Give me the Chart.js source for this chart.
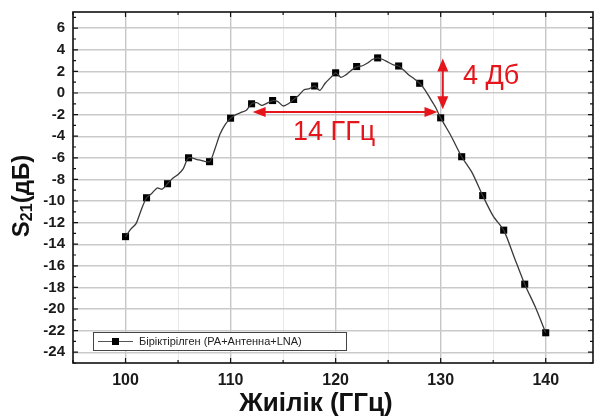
<!DOCTYPE html>
<html>
<head>
<meta charset="utf-8">
<script src="https://cdn.jsdelivr.net/npm/chart.js@4.4.1/dist/chart.umd.min.js"></script>
<style>
  html, body { margin: 0; padding: 0; background: #fff; }
  #wrap { width: 594px; height: 416px; }
</style>
</head>
<body>
<div id="wrap"><canvas id="myChart" width="594" height="416"></canvas></div>
<script>
var freqLine = [100, 100.5, 101, 101.5, 102, 102.5, 103, 103.5, 104, 104.5, 105, 105.5, 106, 107, 108,
  108.5, 109, 109.5, 110, 110.5, 111, 111.5, 112, 112.5, 113, 114, 114.5, 115, 115.5, 116,
  116.5, 117, 117.5, 118, 118.5, 119, 119.5, 120, 120.5, 121, 121.5, 122, 122.5, 123, 123.5, 124,
  124.5, 125, 125.5, 126, 126.5, 127, 127.5, 128, 128.5, 129, 129.5, 130,
  131, 132, 133, 134, 135, 136, 137, 138, 139, 140];
var s21Line = [-13.3, -12.6, -12.1, -10.8, -9.7, -9.3, -8.8, -8.9, -8.4, -7.9, -7.55, -7.0, -6.0, -6.2, -6.36,
  -5.2, -3.8, -2.9, -2.35, -2.0, -1.8, -1.6, -1.0, -0.9, -1.15, -0.7, -0.8, -1.2, -1.0, -0.6,
  -0.2, 0.3, 0.4, 0.65, 0.25, 0.9, 1.4, 1.87, 1.45, 1.7, 2.1, 2.45, 2.5, 2.75, 3.1, 3.25,
  3.1, 2.85, 2.6, 2.5, 2.1, 1.65, 1.3, 0.9, 0.3, -0.5, -1.3, -2.3,
  -4.0, -5.9, -7.4, -9.5, -11.4, -12.7, -15.2, -17.7, -19.8, -22.2];

// square markers every 2 GHz
var freqMarks = [100, 102, 104, 106, 108, 110, 112, 114, 116, 118, 120, 122, 124, 126, 128, 130, 132, 134, 136, 138, 140];
var s21Marks = [-13.3, -9.7, -8.4, -6.0, -6.36, -2.33, -1.0, -0.7, -0.6, 0.65, 1.87, 2.45, 3.25, 2.5, 0.9, -2.3, -5.9, -9.5, -12.7, -17.7, -22.2];

// axis ticks (labels on every 10 GHz / every 2 dB)
var xTickValues = [95, 100, 105, 110, 115, 120, 125, 130, 135, 140];
var yTickValues = [-25, -24, -23, -22, -21, -20, -19, -18, -17, -16, -15, -14, -13, -12, -11, -10, -9, -8,
  -7, -6, -5, -4, -3, -2, -1, 0, 1, 2, 3, 4, 5, 6, 7];

var seriesName = "Біріктірілген (PA+Антенна+LNA)";
var xTitle = "Жиілік (ГГц)";
var bwLabel = "14 ГГц";
var dropLabel = "4 Дб";

var red = "#e4161b";

function toXY(xs, ys) {
  var out = [];
  for (var i = 0; i < xs.length; i++) out.push({x: xs[i], y: ys[i]});
  return out;
}

function head(ctx, x, y, dx, dy, len, half) {
  // filled triangle, tip at (x,y), pointing along (dx,dy)
  ctx.beginPath();
  ctx.moveTo(x, y);
  ctx.lineTo(x - dx * len - dy * half, y - dy * len + dx * half);
  ctx.lineTo(x - dx * len + dy * half, y - dy * len - dx * half);
  ctx.closePath();
  ctx.fill();
}

function noPad(s) {
  s.paddingLeft = 0; s.paddingRight = 0; s.paddingTop = 0; s.paddingBottom = 0;
}

var extras = {
  id: 'extras',
  afterDraw: function(chart) {
    var ctx = chart.ctx;
    var a = chart.chartArea;
    var xs = chart.scales.x, ys = chart.scales.y;
    ctx.save();

    // inward tick marks
    ctx.strokeStyle = '#111';
    ctx.lineWidth = 1.2;
    ys.ticks.forEach(function(t) {
      var p = ys.getPixelForValue(t.value);
      var l = (t.value % 2 === 0) ? 5 : 3;
      ctx.beginPath();
      ctx.moveTo(a.left, p); ctx.lineTo(a.left + l, p);
      ctx.moveTo(a.right, p); ctx.lineTo(a.right - l, p);
      ctx.stroke();
    });
    xs.ticks.forEach(function(t) {
      var p = xs.getPixelForValue(t.value);
      var l = (t.value % 10 === 0) ? 5 : 3;
      ctx.beginPath();
      ctx.moveTo(p, a.bottom); ctx.lineTo(p, a.bottom - l);
      ctx.moveTo(p, a.top); ctx.lineTo(p, a.top + l);
      ctx.stroke();
    });

    // frame
    ctx.lineWidth = 1.6;
    ctx.strokeRect(a.left, a.top, a.right - a.left, a.bottom - a.top);

    // axis titles
    ctx.fillStyle = '#111';
    ctx.font = 'bold 26px "Liberation Sans", Arial, sans-serif';
    ctx.textAlign = 'center';
    ctx.textBaseline = 'alphabetic';
    ctx.fillText(xTitle, 316, 411);

    ctx.save();
    ctx.translate(29, 196);
    ctx.rotate(-Math.PI / 2);
    var big = 'bold 24px "Liberation Sans", Arial, sans-serif';
    var small = 'bold 16px "Liberation Sans", Arial, sans-serif';
    ctx.font = big; var w1 = ctx.measureText('S').width;
    var w3 = ctx.measureText('(дБ)').width;
    ctx.font = small; var w2 = ctx.measureText('21').width;
    var x0 = -(w1 + w2 + w3) / 2;
    ctx.textAlign = 'left';
    ctx.font = big; ctx.fillText('S', x0, 0);
    ctx.font = small; ctx.fillText('21', x0 + w1, 3);
    ctx.font = big; ctx.fillText('(дБ)', x0 + w1 + w2, 0);
    ctx.restore();

    // legend box
    ctx.textAlign = 'left';
    ctx.fillStyle = '#fff';
    ctx.fillRect(93, 332, 253, 18);
    ctx.strokeStyle = '#444';
    ctx.lineWidth = 1;
    ctx.strokeRect(93.5, 332.5, 253, 18);
    ctx.strokeStyle = '#555';
    ctx.lineWidth = 1.2;
    ctx.beginPath(); ctx.moveTo(98, 341.5); ctx.lineTo(133, 341.5); ctx.stroke();
    ctx.fillStyle = '#000';
    ctx.fillRect(112, 338, 7, 7);
    ctx.fillStyle = '#222';
    ctx.font = '11px "Liberation Sans", Arial, sans-serif';
    ctx.textBaseline = 'middle';
    ctx.fillText(seriesName, 139, 342);

    // annotations
    ctx.strokeStyle = red;
    ctx.fillStyle = red;
    ctx.lineWidth = 2;
    var hy = ys.getPixelForValue(-1.75);
    var hx1 = xs.getPixelForValue(112.1), hx2 = xs.getPixelForValue(129.7);
    ctx.beginPath(); ctx.moveTo(hx1 + 10, hy); ctx.lineTo(hx2 - 10, hy); ctx.stroke();
    head(ctx, hx1, hy, -1, 0, 13, 5);
    head(ctx, hx2, hy, 1, 0, 13, 5);

    var vx = xs.getPixelForValue(130.2);
    var vy1 = ys.getPixelForValue(3.2), vy2 = ys.getPixelForValue(-1.5);
    ctx.beginPath(); ctx.moveTo(vx, vy1 + 10); ctx.lineTo(vx, vy2 - 10); ctx.stroke();
    head(ctx, vx, vy1, 0, -1, 13, 5.5);
    head(ctx, vx, vy2, 0, 1, 13, 5.5);

    ctx.font = '27px "Liberation Sans", Arial, sans-serif';
    ctx.textAlign = 'left';
    ctx.textBaseline = 'alphabetic';
    ctx.fillText(bwLabel, 293, 140);
    ctx.fillText(dropLabel, 463, 84);

    ctx.restore();
  }
};

var chart = new Chart(document.getElementById('myChart'), {
  type: 'scatter',
  data: {
    datasets: [
      {
        data: toXY(freqLine, s21Line),
        showLine: true,
        borderColor: '#3a3a3a',
        borderWidth: 1.3,
        pointRadius: 0,
        tension: 0.25
      },
      {
        data: toXY(freqMarks, s21Marks),
        showLine: false,
        pointStyle: 'rect',
        pointRadius: 5,
        backgroundColor: '#000',
        borderColor: '#000',
        borderWidth: 0
      }
    ]
  },
  options: {
    responsive: false,
    animation: false,
    layout: { autoPadding: false, padding: { left: 0, top: 12, right: 1, bottom: 0 } },
    plugins: { legend: { display: false }, tooltip: { enabled: false } },
    scales: {
      x: {
        type: 'linear',
        min: 95,
        max: 144.5,
        afterBuildTicks: function(s) { s.ticks = xTickValues.map(function(v) { return {value: v}; }); },
        afterFit: function(s) { s.height = 53; noPad(s); },
        border: { display: false },
        grid: {
          drawTicks: false,
          color: function(c) { return c.tick && c.tick.value % 10 === 0 ? '#c6c6c6' : '#e8e8e8'; },
          lineWidth: function(c) { return c.tick && c.tick.value % 10 === 0 ? 1.4 : 1; }
        },
        ticks: {
          autoSkip: false,
          maxRotation: 0,
          padding: 8,
          color: '#1a1a1a',
          font: { family: '"Liberation Sans", Arial, sans-serif', size: 16, weight: 'bold' },
          callback: function(v) { return v % 10 === 0 ? v : ''; }
        }
      },
      y: {
        type: 'linear',
        min: -25,
        max: 7.5,
        afterBuildTicks: function(s) { s.ticks = yTickValues.map(function(v) { return {value: v}; }); },
        afterFit: function(s) { s.width = 73; noPad(s); },
        border: { display: false },
        grid: {
          drawTicks: false,
          color: function(c) { return c.tick && c.tick.value % 2 === 0 ? '#cacaca' : 'rgba(0,0,0,0)'; },
          lineWidth: 1.4
        },
        ticks: {
          autoSkip: false,
          padding: 8,
          color: '#1a1a1a',
          font: { family: '"Liberation Sans", Arial, sans-serif', size: 15, weight: 'bold' },
          callback: function(v) { return v % 2 === 0 ? v : ''; }
        }
      }
    }
  },
  plugins: [extras]
});
</script>
</body>
</html>
